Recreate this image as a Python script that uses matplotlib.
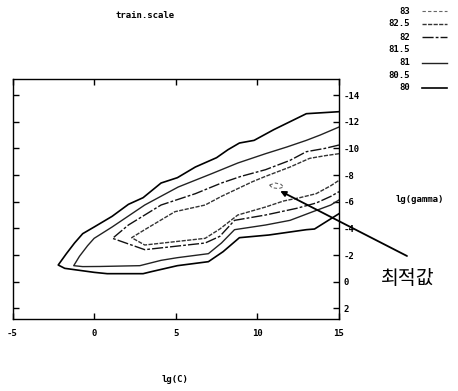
import matplotlib
matplotlib.use("Agg")
import matplotlib.pyplot as plt
from matplotlib.lines import Line2D

plt.rcParams['axes.unicode_minus'] = False
plt.rcParams['font.family'] = ['DejaVu Sans Mono', 'Noto Sans CJK KR']
plt.rcParams['font.weight'] = 'bold'

# ---- data: contour lines (lg(C), lg(gamma)) ----
c80_x = [15.0, 13.0, 11.0, 9.8, 8.9, 8.2, 7.5, 6.2, 5.1, 4.1, 3.0, 2.1, 1.1, 0.0, -0.7,
         -1.2, -1.7, -2.2, -1.8, -1.2, 0.0, 0.8, 3.0, 3.5, 5.1, 7.0, 7.9, 8.9, 10.7, 13.0, 13.5, 15.0]
c80_y = [-12.75, -12.6, -11.4, -10.6, -10.4, -9.9, -9.3, -8.6, -7.8, -7.4, -6.3, -5.8, -4.9, -4.1, -3.6,
         -2.9, -2.1, -1.25, -1.0, -0.9, -0.7, -0.6, -0.6, -0.75, -1.2, -1.5, -2.25, -3.3, -3.5, -3.9, -3.95, -5.1]

c81_x = [15.0, 13.85, 13.0, 11.8, 10.5, 8.8, 7.2, 5.15, 3.1, 1.1, 0.0, -0.4, -0.9, -1.25,
         -0.7, 0.35, 2.8, 4.1, 5.1, 7.0, 7.8, 8.6, 10.5, 12.0, 13.4, 14.5, 15.0]
c81_y = [-11.6, -11.0, -10.6, -10.1, -9.6, -8.9, -8.1, -7.1, -5.75, -4.1, -3.25, -2.7, -1.9, -1.2,
         -1.13, -1.14, -1.2, -1.6, -1.8, -2.1, -2.9, -3.9, -4.25, -4.6, -5.25, -5.75, -6.13]

c82_x = [15.0, 14.15, 13.0, 12.0, 10.5, 9.0, 7.8, 6.2, 4.1, 2.1, 1.13,
         3.1, 6.8, 7.7, 8.6, 10.5, 12.4, 13.6, 14.5, 15.0]
c82_y = [-10.25, -10.0, -9.75, -9.1, -8.4, -7.9, -7.4, -6.6, -5.75, -4.25, -3.25,
         -2.4, -2.9, -3.4, -4.6, -5.0, -5.5, -5.9, -6.4, -6.75]

c825_x = [15.0, 14.15, 13.2, 12.0, 10.5, 9.7, 7.8, 6.8, 4.95, 3.1, 2.3,
          3.1, 6.8, 7.7, 8.8, 10.5, 11.6, 12.6, 13.6, 14.5, 15.0]
c825_y = [-9.6, -9.45, -9.25, -8.6, -7.9, -7.5, -6.4, -5.75, -5.25, -3.9, -3.3,
          -2.75, -3.25, -3.95, -5.0, -5.6, -6.05, -6.3, -6.6, -7.2, -7.6]

c83_x = [10.75, 11.1, 11.45, 11.6, 11.3, 10.9, 10.75]
c83_y = [-7.25, -7.4, -7.3, -7.1, -6.98, -7.05, -7.25]

levels = ['83', '82.5', '82', '81.5', '81', '80.5', '80']
optimum = (11.4, -6.8)

W, H = 458, 391
fig = plt.figure(figsize=(W / 100, H / 100), dpi=100)
ax = fig.add_axes([12.5 / W, 1 - 319 / H, (339 - 12.5) / W, (319 - 78.5) / H])

styles = {
    '80': dict(color='black', lw=1.2, ls='-'),
    '81': dict(color='#222222', lw=1.0, ls='-'),
    '82': dict(color='#111111', lw=1.0, ls=(0, (8, 1.5, 2, 1.5))),
    '82.5': dict(color='#333333', lw=1.0, ls=(0, (3, 1))),
    '83': dict(color='#666666', lw=0.8, ls=(0, (3, 2))),
    '81.5': dict(color='none', lw=1.0, ls='-'),
    '80.5': dict(color='none', lw=1.0, ls='-'),
}

ax.plot(c80_x, c80_y, **styles['80'])
ax.plot(c81_x, c81_y, **styles['81'])
ax.plot(c82_x, c82_y, **styles['82'])
ax.plot(c825_x, c825_y, **styles['82.5'])
ax.plot(c83_x, c83_y, **styles['83'])

ax.set_xlim(-5, 15)
ax.set_ylim(2.8, -15.24)
ax.set_xticks([-5, 0, 5, 10, 15])
ax.set_yticks([-14, -12, -10, -8, -6, -4, -2, 0, 2])
ax.tick_params(axis='both', direction='in', length=4, width=1, labelsize=6.5,
               top=True, right=True)
ax.tick_params(axis='y', labelleft=False, labelright=True, pad=3)
ax.tick_params(axis='x', pad=7)
for s in ax.spines.values():
    s.set_linewidth(1.0)
    s.set_color('black')

# texts
fig.text(145 / W, 1 - 16 / H, 'train.scale', ha='center', va='center', fontsize=6.5)
fig.text(420 / W, 1 - 200 / H, 'lg(gamma)', ha='center', va='center', fontsize=6.5)
fig.text(175 / W, 1 - 380 / H, 'lg(C)', ha='center', va='center', fontsize=6.5)
fig.text(408 / W, 1 - 279 / H, '최적값', ha='center', va='center', fontsize=14,
         fontweight='normal', family=['Noto Sans CJK KR', 'DejaVu Sans'])

ax.annotate('', xy=optimum, xycoords='data',
            xytext=(407 / W, 1 - 256 / H), textcoords='figure fraction',
            arrowprops=dict(arrowstyle='-|>', color='black', lw=1.3,
                            mutation_scale=8, shrinkA=0, shrinkB=0),
            annotation_clip=False)

# legend (gnuplot style, label then line sample)
row_y = [11, 24, 37, 50, 62.5, 75, 88]
for lab, yy in zip(levels, row_y):
    fy = 1 - yy / H
    fig.text(410 / W, fy, lab, ha='right', va='center', fontsize=6.5)
    st = styles[lab]
    fig.add_artist(Line2D([421.7 / W, 446.7 / W], [fy, fy], transform=fig.transFigure,
                          color=st['color'], lw=st['lw'], ls=st['ls']))

fig.savefig('out.png', dpi=100)
